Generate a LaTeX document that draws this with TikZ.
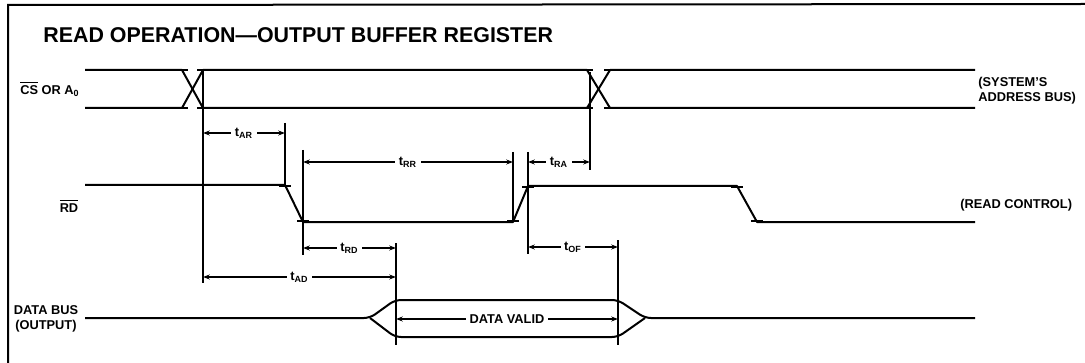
\documentclass[tikz,border=0pt]{standalone}
\usepackage{fontspec}
\setmainfont{Liberation Sans}
\usetikzlibrary{arrows.meta}
\begin{document}
\begin{tikzpicture}[x=0.5pt,y=-0.5pt,
  sig/.style={line width=1pt, line join=round},
  refl/.style={line width=0.6pt},
  dim/.style={line width=0.6pt, {Stealth[length=3.4pt,width=2.5pt]}-{Stealth[length=3.4pt,width=2.5pt]}},
  lbl/.style={font=\bfseries\fontsize{6.4}{7.6}\selectfont, inner sep=1pt},
  tlab/.style={font=\bfseries\fontsize{6.4}{7.6}\selectfont, fill=white, inner sep=1.8pt},
  tk/.pic={\draw[line width=0.6pt] (-6,0) -- (6,0);}]
\useasboundingbox (0,0) rectangle (1085,363);
% frame
\draw[line width=1pt] (8,363) -- (8,5) -- (1085,4);
% title
\node[anchor=west, font=\bfseries\fontsize{10.7}{12}\selectfont, inner sep=0pt] (title) at (43,35) {READ OPERATION—OUTPUT BUFFER REGISTER};
% signal labels
\node[lbl] (cslab) at (50,89) {$\overline{\hbox{CS}}$ OR A\textsubscript{0}};
\node[lbl] (rdlab) at (69,206) {$\overline{\hbox{RD}}$};
\node[lbl, align=center] (dblab) at (46,319) {DATA BUS\\(OUTPUT)};
\node[lbl, anchor=west, align=left] (sysl) at (976,91) {(SYSTEM'S\\ADDRESS BUS)};
\node[lbl, anchor=west] (rcl) at (958,205) {(READ CONTROL)};
% CS / A0 bus
\draw[sig] (85,70) -- (182,70) -- (203,108) -- (587,108) -- (610,70) -- (975,70);
\draw[sig] (85,108) -- (182,108) -- (203,70) -- (587,70) -- (610,108) -- (975,108);
\foreach \p in {(182,70),(182,108),(203,70),(203,108),(587,70),(587,108),(610,70),(610,108)}
  \pic at \p {tk};
% RD
\draw[sig] (85,185) -- (285,185) -- (303,222) -- (513,222) -- (528,186) -- (737,186) -- (757,222) -- (975,222);
\foreach \p in {(285,186),(303,221),(513,221),(528,187),(737,187),(757,221)}
  \pic at \p {tk};
% data bus
\draw[sig, rounded corners=3pt] (85,318) -- (370,318) -- (395,300) -- (618,300) -- (645,318) -- (975,318);
\draw[sig, rounded corners=3pt] (370,318) -- (395,337) -- (618,337) -- (645,318);
% reference coordinates
\coordinate (v1t) at (203,70);  \coordinate (v1b) at (203,283);
\coordinate (v2t) at (285,123); \coordinate (v2b) at (285,186);
\coordinate (v3t) at (303,150); \coordinate (v3b) at (303,255);
\coordinate (v4t) at (513,152); \coordinate (v4b) at (513,222);
\coordinate (v5t) at (528,152); \coordinate (v5b) at (528,254);
\coordinate (v6t) at (590,72);  \coordinate (v6b) at (590,170);
\coordinate (v7t) at (396,243); \coordinate (v7b) at (396,345);
\coordinate (v8t) at (618,240); \coordinate (v8b) at (618,345);
\foreach \i in {1,...,8} \draw[refl] (v\i t) -- (v\i b);
% timing dimensions
\draw[dim] (v1t |- 0,133) -- node[tlab] (tar) {t\textsubscript{AR}} (v2t |- 0,133);
\draw[dim] (v3t |- 0,162) -- node[tlab] (trr) {t\textsubscript{RR}} (v4t |- 0,162);
\draw[dim] (v5t |- 0,162) -- node[tlab] (tra) {t\textsubscript{RA}} (v6t |- 0,162);
\draw[dim] (v3t |- 0,248) -- node[tlab] (trd) {t\textsubscript{RD}} (v7t |- 0,248);
\draw[dim] (v5t |- 0,247) -- node[tlab] (tof) {t\textsubscript{OF}} (v8t |- 0,247);
\draw[dim] (v1t |- 0,277) -- node[tlab] (tad) {t\textsubscript{AD}} (v7t |- 0,277);
\draw[dim] (v7t |- 0,319) -- node[tlab] (dv) {DATA VALID} (v8t |- 0,319);
\end{tikzpicture}
\end{document}
